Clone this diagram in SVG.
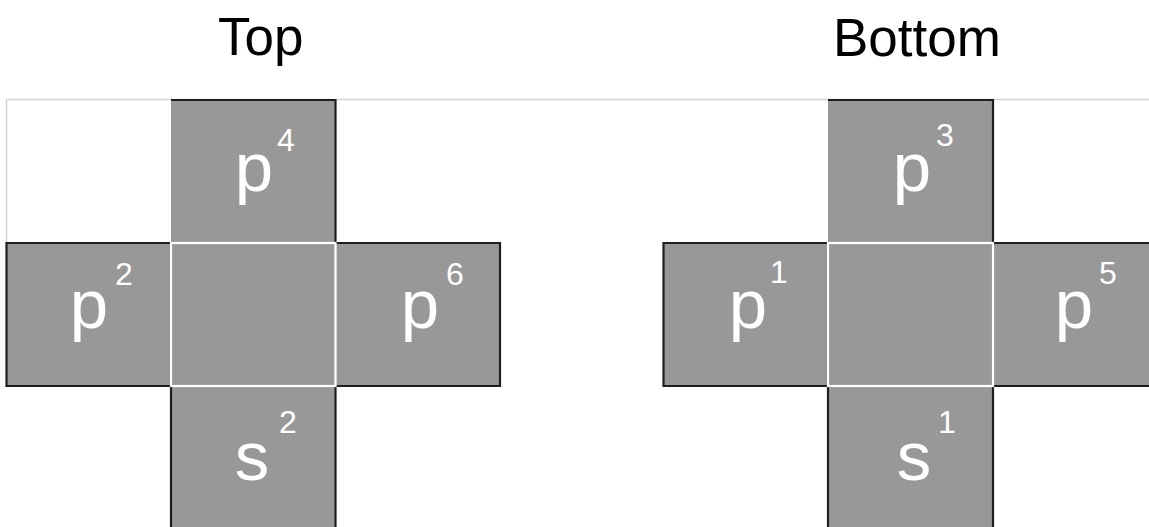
<svg xmlns="http://www.w3.org/2000/svg" width="1149" height="527" viewBox="0 0 1149 527">
  <style>
    .cell { fill: #989898; stroke: none; }
    .outline { fill: none; stroke: #1e1e1e; stroke-width: 2.2; stroke-linejoin: miter; }
    .center { fill: #989898; stroke: #ffffff; stroke-width: 2.2; }
    .frame { stroke: #d4d4d4; stroke-width: 1.5; fill: none; }
    .big { font-family: "Liberation Sans", Arial, sans-serif; font-size: 69px; fill: #ffffff; }
    .sup { font-family: "Liberation Sans", Arial, sans-serif; font-size: 32px; fill: #ffffff; }
    .title { font-family: "Liberation Sans", Arial, sans-serif; font-size: 53px; fill: #000000; }
  </style>
  <rect x="0" y="0" width="1149" height="527" fill="#ffffff"/>
  <g id="frame">
    <path class="frame" d="M6.5,243 V99.5 H1149"/>
  </g>
  <g id="titles">
    <text id="title-top" class="title" x="218" y="55">Top</text>
    <text id="title-bottom" class="title" x="833" y="56">Bottom</text>
  </g>

  <g id="cross-top">
    <g id="top-p4">
      <rect class="cell" x="171" y="100" width="164.5" height="143"/>
      <text class="big" x="254" y="191" text-anchor="middle">p</text>
      <text class="sup" x="277" y="151">4</text>
    </g>
    <g id="top-p2">
      <rect class="cell" x="6.5" y="243" width="164.5" height="143"/>
      <text class="big" x="89" y="328" text-anchor="middle">p</text>
      <text class="sup" x="115" y="285">2</text>
    </g>
    <g id="top-p6">
      <rect class="cell" x="335.5" y="243" width="164.5" height="143"/>
      <text class="big" x="420" y="328" text-anchor="middle">p</text>
      <text class="sup" x="446" y="285">6</text>
    </g>
    <g id="top-s2">
      <rect class="cell" x="171" y="386" width="164.5" height="145"/>
      <text class="big" x="252" y="480" text-anchor="middle">s</text>
      <text class="sup" x="279" y="433">2</text>
    </g>
    <path class="outline" d="M171,100 H335.5 V243 H500 V386 H335.5 V532 M171,532 V386 H6.5 V243 H171 Z"/>
    <g id="top-center">
      <rect class="center" x="171" y="243" width="164.5" height="143"/>
    </g>
  </g>

  <g id="cross-bottom">
    <g id="bottom-p3">
      <rect class="cell" x="828" y="100" width="165" height="143"/>
      <text class="big" x="912" y="191" text-anchor="middle">p</text>
      <text class="sup" x="936" y="146">3</text>
    </g>
    <g id="bottom-p1">
      <rect class="cell" x="663.5" y="243" width="164.5" height="143"/>
      <text class="big" x="748" y="328" text-anchor="middle">p</text>
      <text class="sup" x="770" y="283">1</text>
    </g>
    <g id="bottom-p5">
      <rect class="cell" x="993" y="243" width="165" height="143"/>
      <text class="big" x="1074" y="328" text-anchor="middle">p</text>
      <text class="sup" x="1099" y="284">5</text>
    </g>
    <g id="bottom-s1">
      <rect class="cell" x="828" y="386" width="165" height="145"/>
      <text class="big" x="914" y="480" text-anchor="middle">s</text>
      <text class="sup" x="938" y="433">1</text>
    </g>
    <path class="outline" d="M828,100 H993 V243 H1160 M1160,386 H993 V532 M828,532 V386 H663.5 V243 H828 Z"/>
    <g id="bottom-center">
      <rect class="center" x="828" y="243" width="165" height="143"/>
    </g>
  </g>
</svg>
